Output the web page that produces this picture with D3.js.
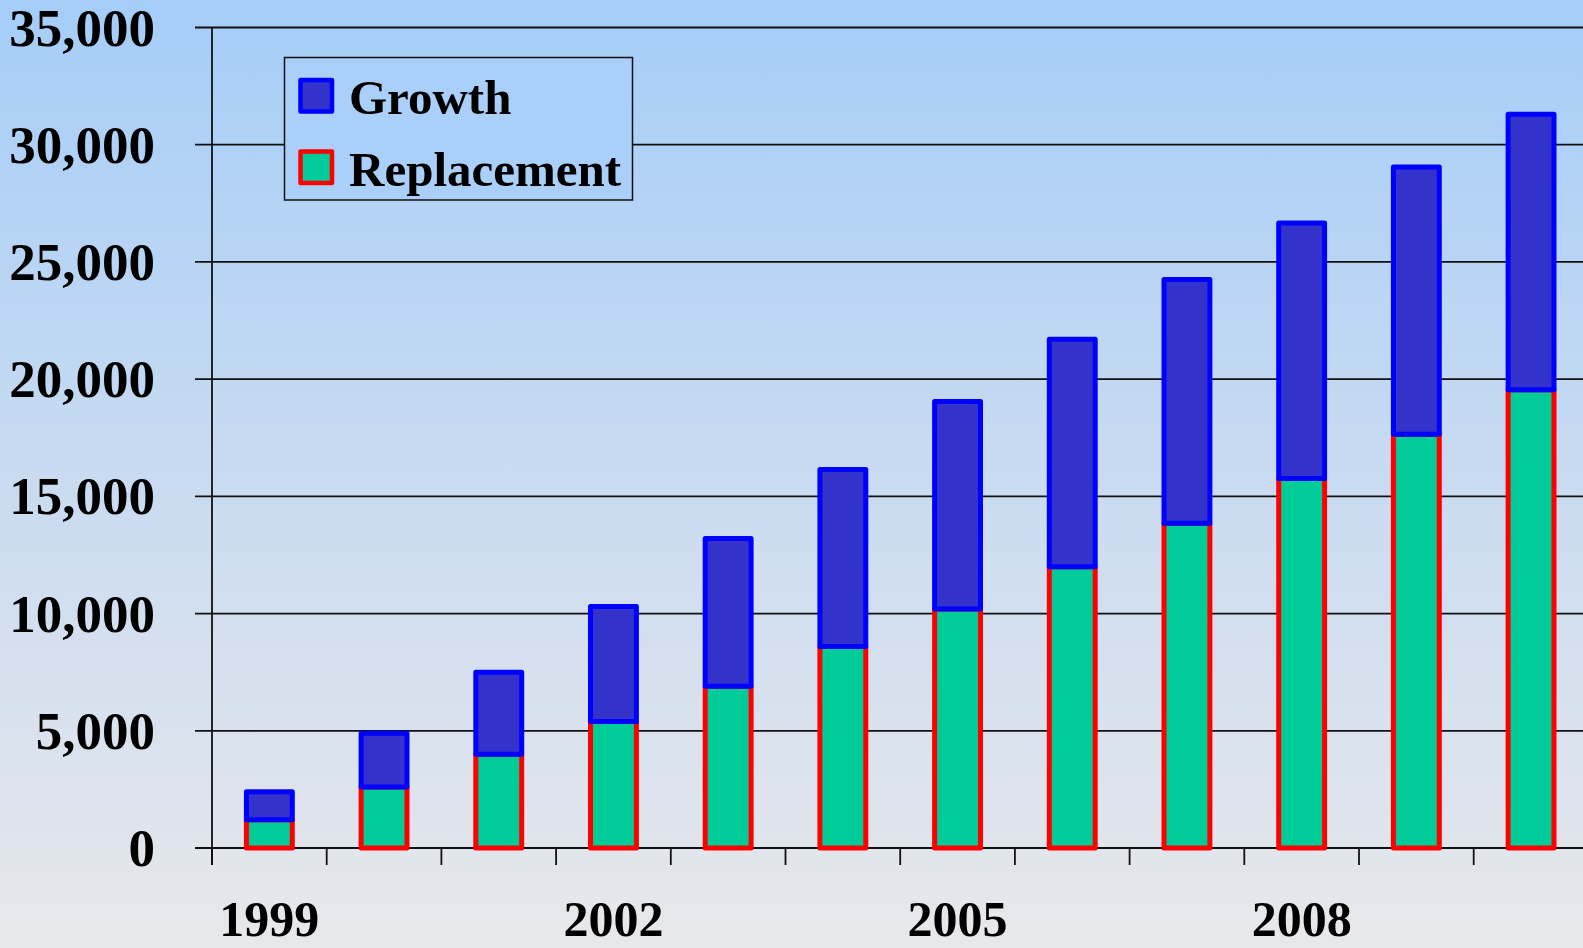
<!DOCTYPE html>
<html>
<head>
<meta charset="utf-8">
<script src="https://cdn.jsdelivr.net/npm/d3@7"></script>
<style>
  html, body { margin: 0; padding: 0; overflow: hidden; }
  svg { display: block; }
  text { font-family: "Liberation Serif", "Times New Roman", serif; font-weight: bold; fill: #000; }
</style>
</head>
<body>
<svg id="chart"></svg>
<script>
const WIDTH = 1583;
const HEIGHT = 948;

// data
const years = ['1999', '2000', '2001', '2002', '2003', '2004', '2005', '2006', '2007', '2008', '2009', '2010'];
const replacement = [1200, 2600, 4000, 5400, 6900, 8600, 10200, 12000, 13850, 15760, 17650, 19550];
const growth = [1200, 2300, 3500, 4900, 6300, 7550, 8850, 9700, 10400, 10900, 11400, 11750];
const yTicks = [0, 5000, 10000, 15000, 20000, 25000, 30000, 35000];
const labelledYears = ['1999', '2002', '2005', '2008'];

const svg = d3.select('#chart').attr('width', WIDTH).attr('height', HEIGHT);

// background gradient
const defs = svg.append('defs');
const grad = defs.append('linearGradient')
	.attr('id', 'bg')
	.attr('x1', 0).attr('y1', 0)
	.attr('x2', 0).attr('y2', 1);
grad.append('stop').attr('offset', '0%').attr('stop-color', '#a5cdf8');
grad.append('stop').attr('offset', '50%').attr('stop-color', '#c9dbf1');
grad.append('stop').attr('offset', '100%').attr('stop-color', '#e7e8eb');
svg.append('rect').attr('width', WIDTH).attr('height', HEIGHT).attr('fill', 'url(#bg)');

const plotLeft = 212;
const step = 114.7;

const x = d3.scaleBand()
	.domain(years)
	.range([plotLeft, plotLeft + step * years.length])
	.padding(0);

const y = d3.scaleLinear()
	.domain([0, 35000])
	.range([848, 27.5]);

// gridlines + y labels
const gridG = svg.append('g');
gridG.selectAll('line.grid')
	.data(yTicks)
	.enter()
	.append('line')
	.attr('class', 'grid')
	.attr('x1', plotLeft - 17)
	.attr('x2', WIDTH)
	.attr('y1', (d) => y(d))
	.attr('y2', (d) => y(d))
	.attr('stroke', '#111')
	.attr('stroke-width', 1.8);

gridG.selectAll('text.ylab')
	.data(yTicks)
	.enter()
	.append('text')
	.attr('class', 'ylab')
	.attr('x', 155)
	.attr('y', (d) => y(d))
	.attr('dy', '0.34em')
	.attr('text-anchor', 'end')
	.style('font-size', '53px')
	.text((d) => d3.format(',')(d));

// y axis line
svg.append('line')
	.attr('x1', plotLeft).attr('x2', plotLeft)
	.attr('y1', y(35000)).attr('y2', 865)
	.attr('stroke', '#111')
	.attr('stroke-width', 1.8);

// x ticks at band edges
const edges = years.map((d) => x(d)).concat([x(years[years.length - 1]) + x.bandwidth()]);
svg.append('g')
	.selectAll('line')
	.data(edges)
	.enter()
	.append('line')
	.attr('x1', (d) => d)
	.attr('x2', (d) => d)
	.attr('y1', y(0))
	.attr('y2', 865)
	.attr('stroke', '#111')
	.attr('stroke-width', 1.8);

svg.append('g')
	.selectAll('text')
	.data(labelledYears)
	.enter()
	.append('text')
	.attr('x', (d) => x(d) + x.bandwidth() / 2)
	.attr('y', 936)
	.attr('text-anchor', 'middle')
	.style('font-size', '50px')
	.text((d) => d);

// bars
const barW = x.bandwidth() * 0.4;
const barsG = svg.append('g');
barsG.selectAll('rect.repl')
	.data(years)
	.enter()
	.append('rect')
	.attr('class', 'repl')
	.attr('x', (d) => x(d) + (x.bandwidth() - barW) / 2)
	.attr('y', (d, i) => y(replacement[i]))
	.attr('width', barW)
	.attr('height', (d, i) => y(0) - y(replacement[i]))
	.attr('fill', '#00cc99')
	.attr('stroke', '#ff0000')
	.attr('stroke-width', 5)
	.attr('stroke-linejoin', 'round');

barsG.selectAll('rect.growth')
	.data(years)
	.enter()
	.append('rect')
	.attr('class', 'growth')
	.attr('x', (d) => x(d) + (x.bandwidth() - barW) / 2)
	.attr('y', (d, i) => y(replacement[i] + growth[i]))
	.attr('width', barW)
	.attr('height', (d, i) => y(replacement[i]) - y(replacement[i] + growth[i]))
	.attr('fill', '#3333cc')
	.attr('stroke', '#0000ff')
	.attr('stroke-width', 5)
	.attr('stroke-linejoin', 'round');

// legend
const legend = svg.append('g');
legend.append('rect')
	.attr('x', 284.5).attr('y', 57.5)
	.attr('width', 348).attr('height', 142.5)
	.attr('fill', '#aacff8')
	.attr('stroke', '#111')
	.attr('stroke-width', 1.5);

const legendItems = [
	{ label: 'Growth', fill: '#3333cc', stroke: '#0000ff', y: 80 },
	{ label: 'Replacement', fill: '#00cc99', stroke: '#ff0000', y: 151.5 }
];
legendItems.forEach((item) => {
	legend.append('rect')
		.attr('x', 300.5).attr('y', item.y)
		.attr('width', 31.5).attr('height', 31.5)
		.attr('fill', item.fill)
		.attr('stroke', item.stroke)
		.attr('stroke-width', 4.5)
		.attr('stroke-linejoin', 'round');
	legend.append('text')
		.attr('x', 349)
		.attr('y', item.y + 34)
		.style('font-size', '49px')
		.text(item.label);
});
</script>
</body>
</html>
